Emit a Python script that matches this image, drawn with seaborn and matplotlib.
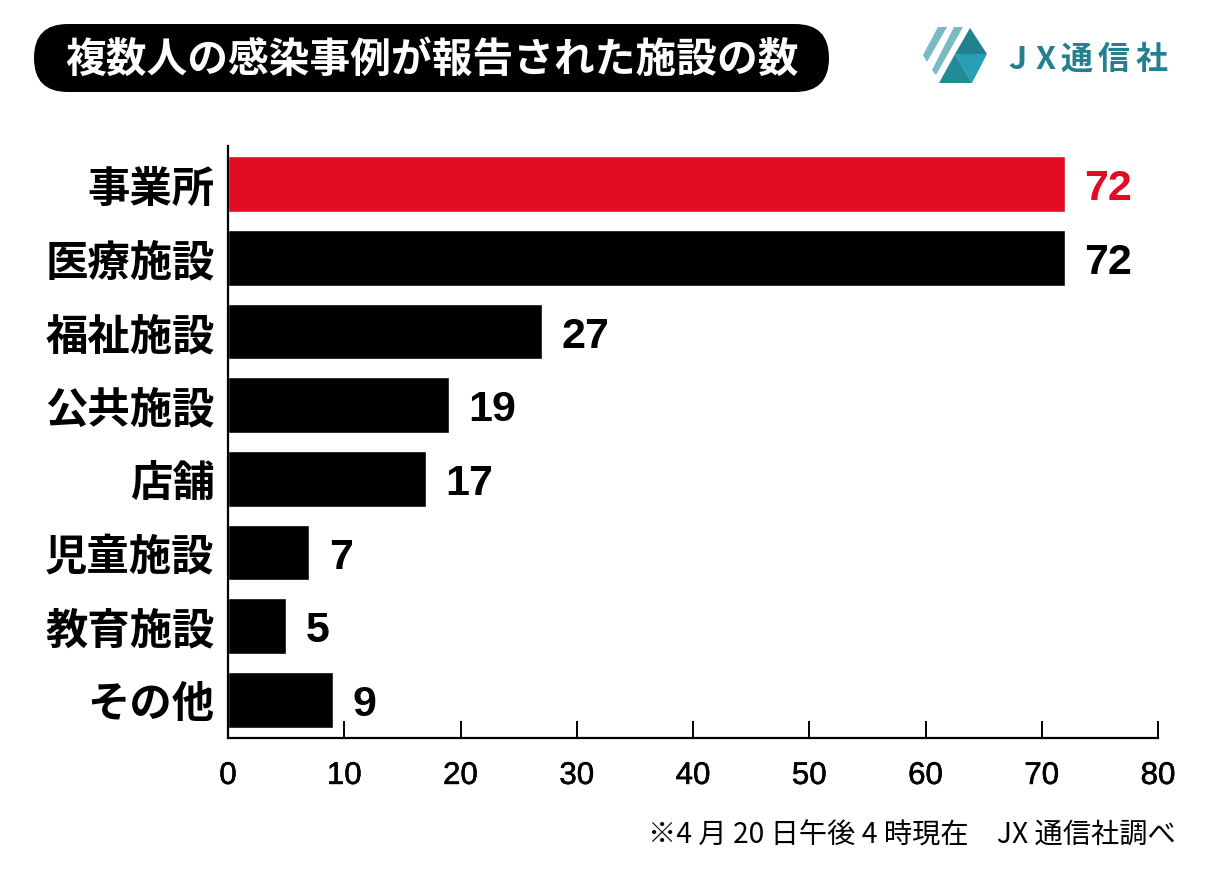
import matplotlib
matplotlib.use("Agg")
import matplotlib.pyplot as plt
import matplotlib.patheffects as pe
from matplotlib.patches import FancyBboxPatch, Polygon
import pandas as pd
import seaborn as sns

# data
categories = ['事業所', '医療施設', '福祉施設', '公共施設', '店舗', '児童施設', '教育施設', 'その他']
counts = [72, 72, 27, 19, 17, 7, 5, 9]
bar_colors = ['#e30b23', '#000000', '#000000', '#000000', '#000000', '#000000', '#000000', '#000000']
x_ticks = [0, 10, 20, 30, 40, 50, 60, 70, 80]

title_text = '複数人の感染事例が報告された施設の数'
note_text = '※4 月 20 日午後 4 時現在　JX 通信社調べ'
brand_chars = ['J', 'X', '通', '信', '社']

sns.set_theme(style='white')
plt.rcParams['font.family'] = ['Noto Sans CJK JP', 'DejaVu Sans']

df = pd.DataFrame({'category': categories, 'count': counts})

W, H = 1207, 878
fig = plt.figure(figsize=(W / 100, H / 100), dpi=100)
ax = fig.add_axes([228 / W, 1 - 739 / H, (1158 - 228) / W, (739 - 147) / H])

sns.barplot(data=df, x='count', y='category', hue='category', palette=bar_colors,
            legend=False, dodge=False, width=0.755, saturation=1, ax=ax)

ax.set_xlim(0, 80)
ax.set_ylim(7.52, -0.52)
ax.set_xlabel('')
ax.set_ylabel('')
ax.set_xticks(x_ticks)
ax.tick_params(axis='x', direction='in', length=12, width=1.4, color='black', pad=16.5, bottom=True)
ax.tick_params(axis='y', length=0, pad=9.5)
for lab in ax.get_xticklabels():
    lab.set_fontsize(22.5)
    lab.set_family(['Liberation Sans'])
    lab.set_color('black')
    lab.set_path_effects([pe.withStroke(linewidth=0.4, foreground='black')])
for lab in ax.get_yticklabels():
    lab.set_fontsize(30.5)
    lab.set_fontweight('bold')
    lab.set_color('black')
for s in ['top', 'right']:
    ax.spines[s].set_visible(False)
for s in ['left', 'bottom']:
    ax.spines[s].set_linewidth(1.6)
    ax.spines[s].set_color('black')

# value labels
for i, v in enumerate(counts):
    ax.annotate(str(v), (v, i), xytext=(14, -3), textcoords='offset points', va='center', ha='left',
                fontsize=31, fontweight='bold', family=['Liberation Sans'],
                color=bar_colors[i])

# header pill
pill = FancyBboxPatch((34 / W, 1 - 93 / H), (829 - 34) / W, 68 / H,
                      boxstyle='round,pad=0,rounding_size=0.028', transform=fig.transFigure,
                      facecolor='black', edgecolor='none', mutation_aspect=W / H)
fig.add_artist(pill)
fig.text(432 / W, 1 - 60 / H, title_text, color='white', fontsize=29.3, fontweight='bold',
         ha='center', va='center')

# logo
logo_parts = [
    ([(923, 56), (938, 28), (947, 28), (927, 63)], '#7bb9c5'),
    ([(932, 71), (954, 28), (963, 28), (936, 76)], '#7bb9c5'),
    ([(970, 29), (987, 55), (955, 55)], '#23808f'),
    ([(955, 55), (987, 55), (972, 84)], '#27a0b5'),
    ([(955, 55), (972, 84), (939, 84)], '#238a9a'),
]
for pts, col in logo_parts:
    fig.add_artist(Polygon([(x / W, 1 - y / H) for x, y in pts], closed=True, transform=fig.transFigure,
                           facecolor=col, edgecolor='none'))
for ch, px in zip(brand_chars, [1017, 1046, 1076, 1114, 1152]):
    fig.text(px / W, 1 - 60 / H, ch, color='#23808f', fontsize=23, fontweight='bold',
             ha='center', va='center')

fig.text(1176 / W, 1 - 836 / H, note_text, color='black', fontsize=20.3, fontweight='normal',
         ha='right', va='center')

fig.savefig('out.png', dpi=100, facecolor='white')
